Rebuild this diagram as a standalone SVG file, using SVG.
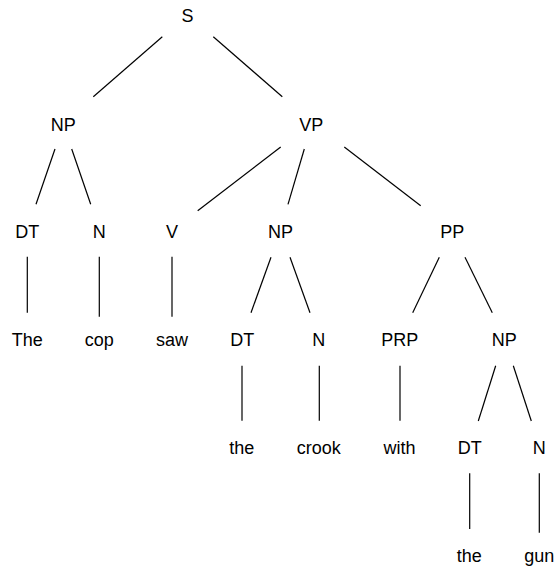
<svg xmlns="http://www.w3.org/2000/svg" width="556" height="569" viewBox="0 0 556 569">
  <style>
    .lbl { font-family: "Liberation Sans", Arial, sans-serif; font-size: 18px; fill: #000; text-anchor: middle; }
    .edge { stroke: #000; stroke-width: 1.2; fill: none; stroke-linecap: butt; }
  </style>
  <rect width="556" height="569" fill="#fff"/>

  <!-- tree edges -->
  <g id="connectors">
    <line class="edge" x1="162.3" y1="36.7" x2="93.3" y2="96.7"/>
    <line class="edge" x1="213.3" y1="36.7" x2="282.3" y2="96.7"/>
    <line class="edge" x1="55" y1="149" x2="36" y2="204.3"/>
    <line class="edge" x1="71.7" y1="149" x2="90.7" y2="204.3"/>
    <line class="edge" x1="280.7" y1="147" x2="197.7" y2="210.7"/>
    <line class="edge" x1="304.3" y1="149" x2="288" y2="204.3"/>
    <line class="edge" x1="344.3" y1="147" x2="420.7" y2="205.7"/>
    <line class="edge" x1="27.3" y1="256.7" x2="27.3" y2="312.7"/>
    <line class="edge" x1="99.3" y1="256.7" x2="99.3" y2="316.7"/>
    <line class="edge" x1="172" y1="256.7" x2="172" y2="316.7"/>
    <line class="edge" x1="271" y1="257.3" x2="251" y2="312.7"/>
    <line class="edge" x1="290" y1="257.3" x2="310" y2="312.7"/>
    <line class="edge" x1="439.3" y1="257.3" x2="412.7" y2="312.7"/>
    <line class="edge" x1="465" y1="257.3" x2="492.3" y2="312.7"/>
    <line class="edge" x1="242" y1="365.7" x2="242" y2="420.7"/>
    <line class="edge" x1="319.3" y1="365.7" x2="319.3" y2="420.7"/>
    <line class="edge" x1="400" y1="365.7" x2="400" y2="420.7"/>
    <line class="edge" x1="495.7" y1="365.7" x2="478.3" y2="421"/>
    <line class="edge" x1="513.3" y1="365.7" x2="531.3" y2="421"/>
    <line class="edge" x1="469.7" y1="473.3" x2="469.7" y2="529"/>
    <line class="edge" x1="539.3" y1="473.3" x2="539.3" y2="532.7"/>
  </g>

  <!-- level 0 -->
  <g id="n-S"><text class="lbl" x="187.5" y="21.5">S</text></g>
  <!-- level 1 -->
  <g id="n-NP1"><text class="lbl" x="63.3" y="130.5">NP</text></g>
  <g id="n-VP"><text class="lbl" x="311.3" y="130.5">VP</text></g>
  <!-- level 2 -->
  <g id="n-DT1"><text class="lbl" x="27.2" y="238">DT</text></g>
  <g id="n-N1"><text class="lbl" x="99.3" y="238">N</text></g>
  <g id="n-V"><text class="lbl" x="172" y="238">V</text></g>
  <g id="n-NP2"><text class="lbl" x="280.5" y="238">NP</text></g>
  <g id="n-PP"><text class="lbl" x="452.2" y="238">PP</text></g>
  <!-- level 3 -->
  <g id="w-The"><text class="lbl" x="27.2" y="346">The</text></g>
  <g id="w-cop"><text class="lbl" x="99.3" y="346">cop</text></g>
  <g id="w-saw"><text class="lbl" x="172" y="346">saw</text></g>
  <g id="n-DT2"><text class="lbl" x="242.2" y="346">DT</text></g>
  <g id="n-N2"><text class="lbl" x="318.8" y="346">N</text></g>
  <g id="n-PRP"><text class="lbl" x="399.7" y="346">PRP</text></g>
  <g id="n-NP3"><text class="lbl" x="504.2" y="346">NP</text></g>
  <!-- level 4 -->
  <g id="w-the1"><text class="lbl" x="241.7" y="454">the</text></g>
  <g id="w-crook"><text class="lbl" x="318.8" y="454">crook</text></g>
  <g id="w-with"><text class="lbl" x="399.5" y="454">with</text></g>
  <g id="n-DT3"><text class="lbl" x="469.7" y="454">DT</text></g>
  <g id="n-N3"><text class="lbl" x="539.3" y="454">N</text></g>
  <!-- level 5 -->
  <g id="w-the2"><text class="lbl" x="469.3" y="561.5">the</text></g>
  <g id="w-gun"><text class="lbl" x="539.3" y="561.5">gun</text></g>
</svg>
